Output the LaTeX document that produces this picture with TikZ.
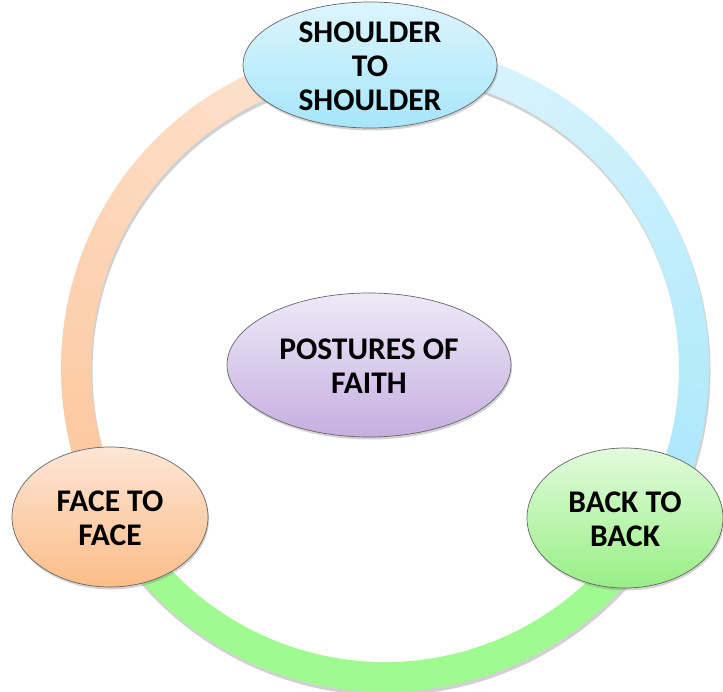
\documentclass[tikz,border=0pt]{standalone}
\usepackage{fontspec}
\setmainfont{Carlito}
\usetikzlibrary{shapes.geometric,shadows}
\definecolor{orL}{HTML}{FDE6D5}
\definecolor{orD}{HTML}{FDC69C}
\definecolor{blL}{HTML}{E0F6FD}
\definecolor{blD}{HTML}{A8E7FB}
\definecolor{grC}{HTML}{9FFA8F}
\definecolor{shT}{HTML}{DDF5FD}
\definecolor{shB}{HTML}{A6E6FA}
\definecolor{faT}{HTML}{EFE9F8}
\definecolor{faB}{HTML}{C5AFE0}
\definecolor{ffT}{HTML}{FDE6D6}
\definecolor{ffB}{HTML}{FBBD88}
\definecolor{bbT}{HTML}{E2FBDD}
\definecolor{bbB}{HTML}{98EF85}
\tikzset{
  ringseg/.style={line width=30pt, line cap=butt},
  ringshadow/.style={line width=31pt, draw=black, opacity=0.18},
  ell/.style={ellipse, draw=black!60, line width=0.7pt, inner sep=0pt,
    drop shadow={opacity=0.35, shadow xshift=1pt, shadow yshift=-2.5pt}},
  lbl/.style={align=center, font=\fontsize{31.5}{34}\selectfont\bfseries, text=black, inner sep=0pt}
}
\begin{document}
\begin{tikzpicture}[x=1pt,y=-1pt]
\useasboundingbox (0,0) rectangle (723,692);
\coordinate (O) at (385,368);
\coordinate (Os) at (386,371);
% ring shadow
\draw[ringshadow] (Os) ++(90:309pt) arc[start angle=90, end angle=450, radius=309pt];
% orange arc (top -> face)
\foreach \i in {0,...,29}{
  \pgfmathsetmacro\a{90+\i*118.4/30}
  \pgfmathsetmacro\b{\a+118.4/30+0.5}
  \pgfmathsetmacro\p{100*\i/29}
  \draw[ringseg, draw=orD!\p!orL] (O) ++(\a:309pt) arc[start angle=\a, end angle=\b, radius=309pt];
}
% blue arc (back -> top)
\foreach \i in {0,...,29}{
  \pgfmathsetmacro\a{-32+\i*122/30}
  \pgfmathsetmacro\b{\a+122/30+0.5}
  \pgfmathsetmacro\p{100*\i/29}
  \draw[ringseg, draw=blL!\p!blD] (O) ++(\a:309pt) arc[start angle=\a, end angle=\b, radius=309pt];
}
% green arc (face -> back)
\draw[ringseg, draw=grC] (O) ++(208:309pt) arc[start angle=208, end angle=329, radius=309pt];
% nodes
\node[ell, minimum width=254pt, minimum height=126pt, top color=shT, bottom color=shB] (sh) at (370,65) {};
\node[ell, minimum width=196pt, minimum height=140pt, top color=ffT, bottom color=ffB] (ff) at (110,517) {};
\node[ell, minimum width=196pt, minimum height=140pt, top color=bbT, bottom color=bbB] (bb) at (625,518) {};
\node[ell, minimum width=284pt, minimum height=144pt, top color=faT, bottom color=faB] (pf) at (369,365) {};
\node[lbl] (shl) at ([yshift=-1.5pt]sh.center) {SHOULDER\\TO\\SHOULDER};
\node[lbl] (ffl) at ([yshift=-1.5pt]ff.center) {FACE TO\\FACE};
\node[lbl] (bbl) at ([yshift=-1.5pt]bb.center) {BACK TO\\BACK};
\node[lbl] (pfl) at ([yshift=-1.5pt]pf.center) {POSTURES OF\\FAITH};
\end{tikzpicture}
\end{document}
